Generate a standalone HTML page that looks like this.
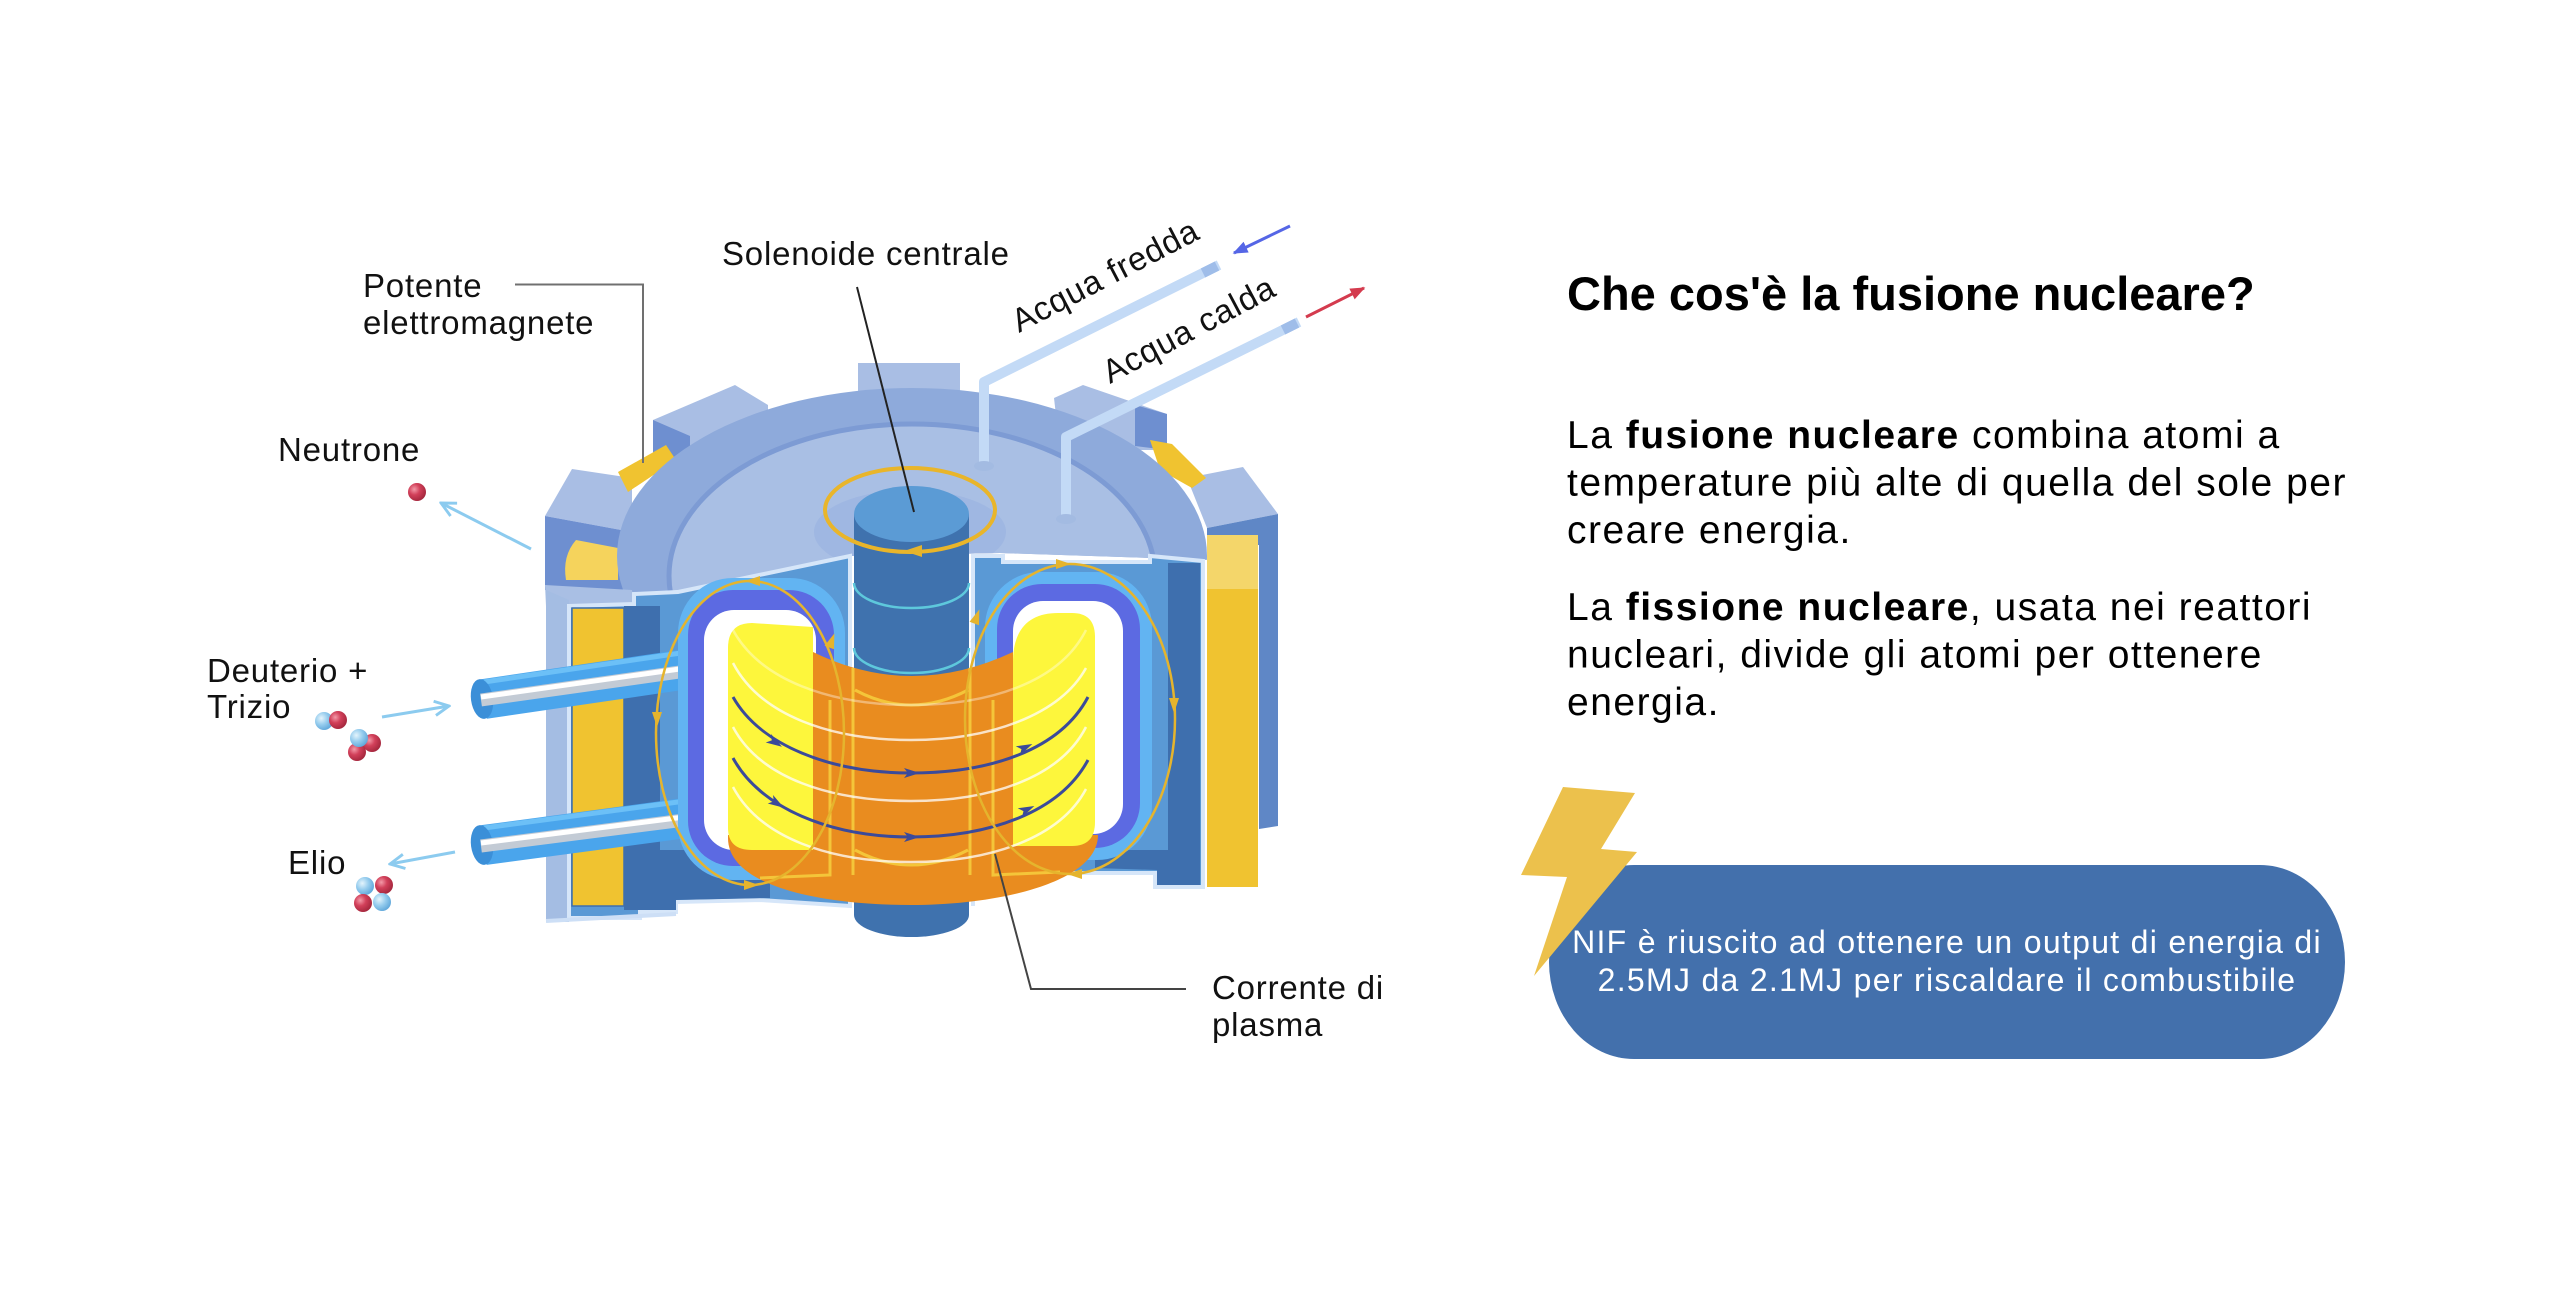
<!DOCTYPE html>
<html>
<head>
<meta charset="utf-8">
<style>
html,body{margin:0;padding:0;background:#ffffff;width:2560px;height:1298px;overflow:hidden}
svg{display:block}
</style>
</head>
<body>
<svg width="2560" height="1298" viewBox="0 0 2560 1298" xmlns="http://www.w3.org/2000/svg" font-family="'Liberation Sans', Arial, sans-serif">
<defs>
  <radialGradient id="rg" cx="35%" cy="35%" r="70%">
    <stop offset="0" stop-color="#f39aa8"/>
    <stop offset="0.45" stop-color="#d2405a"/>
    <stop offset="1" stop-color="#a3263c"/>
  </radialGradient>
  <radialGradient id="bg" cx="35%" cy="35%" r="70%">
    <stop offset="0" stop-color="#e4f4fc"/>
    <stop offset="0.5" stop-color="#97cdee"/>
    <stop offset="1" stop-color="#5fa7da"/>
  </radialGradient>
  <marker id="mLB" viewBox="0 0 10 10" refX="9" refY="5" markerWidth="6" markerHeight="6" orient="auto">
    <path d="M1,1 L9,5 L1,9" fill="none" stroke="#8ccbef" stroke-width="1.6"/>
  </marker>
  <marker id="mBL" viewBox="0 0 10 10" refX="9" refY="5" markerWidth="5" markerHeight="5" orient="auto">
    <path d="M0,1 L10,5 L0,9 Z" fill="#5566e6"/>
  </marker>
  <marker id="mRD" viewBox="0 0 10 10" refX="9" refY="5" markerWidth="5" markerHeight="5" orient="auto">
    <path d="M0,1 L10,5 L0,9 Z" fill="#d43b4e"/>
  </marker>
  <clipPath id="lidClip">
    <polygon points="590,300 1240,300 1240,561 1000,553 850,556 678,590 600,596"/>
  </clipPath>
</defs>

<!-- ===== Back blocks ===== -->
<rect x="858" y="363" width="102" height="40" fill="#a9bee4"/>
<polygon points="653,420 735,385 768,405 768,445 653,470" fill="#a9bee4"/>
<polygon points="653,420 690,436 690,475 653,475" fill="#6e8fd0"/>
<polygon points="1083,385 1167,414 1167,450 1060,450 1054,398" fill="#a9bee4"/>
<polygon points="1135,405 1167,414 1167,450 1135,446" fill="#6e8fd0"/>
<!-- far left block -->
<polygon points="545,516 572,469 632,478 632,532" fill="#a9bee4"/>
<polygon points="545,516 632,532 632,590 545,590" fill="#6e8fd0"/>
<path d="M576,540 L618,548 L618,580 L566,580 Q562,556 576,540 Z" fill="#f5d35c"/>
<!-- far right block -->
<polygon points="1187,478 1243,467 1278,514 1207,528" fill="#a9bee4"/>
<polygon points="1207,528 1278,514 1278,826 1259,829 1259,545 1207,548" fill="#5f87c6"/>
<!-- yellow wedges -->
<polygon points="1150,440 1172,444 1206,478 1192,488 1160,470" fill="#f0c330"/>
<polygon points="618,472 666,445 676,460 628,492" fill="#f0c330"/>
<!-- right yellow strip -->
<rect x="1207" y="535" width="51" height="352" fill="#f0c330"/>
<rect x="1207" y="535" width="51" height="54" fill="#f4d66a"/>

<!-- ===== Lid ===== -->
<g clip-path="url(#lidClip)">
  <ellipse cx="912" cy="556" rx="295" ry="168" fill="#8eaadb"/>
  <ellipse cx="912" cy="576" rx="243" ry="152" fill="#a9bfe4" stroke="#7d9bd4" stroke-width="5"/>
  <ellipse cx="910" cy="532" rx="96" ry="42" fill="#9fb7e2"/>
</g>
<!-- lid front face left -->
<polygon points="545,585 632,590 634,604 569,606 546,606" fill="#a9bfe4"/>

<!-- ===== Section body ===== -->
<polygon points="546,590 569,600 569,922 546,922" fill="#a4bde3"/>
<polygon points="569,606 634,604 634,594 678,592 850,556 850,906 760,900 676,902 676,912 640,912 640,918 569,918" fill="#5a99d5" stroke="#d6e6f9" stroke-width="4"/>
<polygon points="973,556 1003,556 1003,562 1150,562 1150,556 1203,561 1203,887 1155,887 1155,873 973,873" fill="#5a99d5" stroke="#d6e6f9" stroke-width="4"/>
<line x1="546" y1="921" x2="676" y2="914" stroke="#cddff6" stroke-width="4"/>
<!-- left coil & dark -->
<rect x="572" y="608" width="52" height="298" fill="#f0c330" stroke="#3e6fae" stroke-width="1.5"/>
<rect x="624" y="606" width="36" height="300" fill="#3e6fae"/>
<polygon points="624,850 770,850 770,898 676,900 676,910 624,910" fill="#3e6fae"/>
<!-- right dark -->
<rect x="1168" y="563" width="32" height="322" fill="#3e6fae"/>
<polygon points="1095,850 1168,850 1168,885 1157,885 1157,870 1095,868" fill="#3e6fae"/>

<!-- ===== Injector pipes ===== -->
<g>
  <line x1="484" y1="699" x2="708" y2="666" stroke="#4aa5ec" stroke-width="40"/>
  <line x1="484" y1="682" x2="708" y2="649" stroke="#6cc0f7" stroke-width="5"/>
  <ellipse cx="482" cy="699" rx="11" ry="20" transform="rotate(-8 482 699)" fill="#3b8fd8"/>
  <line x1="481" y1="700" x2="708" y2="668" stroke="#c3cbd5" stroke-width="13"/>
  <line x1="481" y1="697" x2="708" y2="665" stroke="#ffffff" stroke-width="5"/>

  <line x1="484" y1="845" x2="708" y2="815" stroke="#4aa5ec" stroke-width="40"/>
  <line x1="484" y1="828" x2="708" y2="798" stroke="#6cc0f7" stroke-width="5"/>
  <ellipse cx="482" cy="845" rx="11" ry="20" transform="rotate(-8 482 845)" fill="#3b8fd8"/>
  <line x1="481" y1="846" x2="708" y2="817" stroke="#c3cbd5" stroke-width="13"/>
  <line x1="481" y1="843" x2="708" y2="814" stroke="#ffffff" stroke-width="5"/>
</g>

<!-- ===== D shapes ===== -->
<rect x="678" y="578" width="167" height="302" rx="55" fill="#62b4f2"/>
<rect x="688" y="590" width="146" height="276" rx="45" fill="#5c6ae2"/>
<rect x="704" y="610" width="112" height="240" rx="30" fill="#ffffff"/>
<rect x="985" y="572" width="167" height="288" rx="55" fill="#62b4f2"/>
<rect x="997" y="584" width="143" height="264" rx="45" fill="#5c6ae2"/>
<rect x="1013" y="601" width="110" height="233" rx="30" fill="#ffffff"/>

<!-- ===== Column ===== -->
<line x1="850" y1="556" x2="850" y2="906" stroke="#d6e6f9" stroke-width="4"/>
<line x1="973" y1="556" x2="973" y2="906" stroke="#d6e6f9" stroke-width="4"/>
<rect x="854" y="514" width="115" height="401" fill="#3f72ae"/>
<ellipse cx="911.5" cy="915" rx="57.5" ry="22" fill="#3f72ae"/>
<ellipse cx="911.5" cy="514" rx="57.5" ry="28" fill="#5b9bd5"/>
<path d="M854,583 A57.5,25 0 0 0 969,583" fill="none" stroke="#5ec8dc" stroke-width="2.5"/>
<path d="M854,648 A57.5,25 0 0 0 969,648" fill="none" stroke="#5ec8dc" stroke-width="2.5"/>

<!-- ===== Plasma ===== -->
<path d="M813,652 Q911,700 1013,652 L1013,835 L1098,835 C1098,882 1000,905 911,905 C820,905 728,886 728,838 L728,835 L813,835 Z" fill="#e98c1f"/>
<path d="M813,627 L752,623 Q728,623 728,648 L728,828 Q728,850 752,850 L813,850 Z" fill="#fdf63c"/>
<path d="M1013,662 C1013,628 1030,613 1058,613 L1072,613 Q1095,613 1095,637 L1095,822 Q1095,846 1072,846 L1013,846 Z" fill="#fdf63c"/>
<!-- yellow vertical field lines on plasma -->
<g stroke="#f7cf3e" stroke-width="3" fill="none" opacity="0.85">
  <line x1="853" y1="668" x2="853" y2="875"/>
  <line x1="970" y1="668" x2="970" y2="875"/>
  <path d="M830,700 L830,875 L760,878"/>
  <path d="M993,700 L993,875 L1060,872"/>
  <path d="M855,690 Q911,720 968,690"/>
  <path d="M855,850 Q911,880 968,850"/>
</g>
<!-- white arcs -->
<g stroke="#ffffff" stroke-width="2.5" fill="none" opacity="0.75">
  <path d="M733,663 C760,715 830,740 911,740 C990,740 1060,715 1086,668"/>
  <path d="M733,727 C760,778 830,801 911,801 C990,801 1060,778 1086,727"/>
  <path d="M733,787 C760,838 830,862 911,862 C990,862 1060,838 1086,789"/>
  <path d="M733,630 C760,680 830,705 911,705 C990,705 1060,682 1086,630" opacity="0.5"/>
</g>
<!-- navy plasma current arcs -->
<g stroke="#3b4a9a" stroke-width="3" fill="none">
  <path d="M733,697 C760,745 830,773 911,773 C990,773 1060,750 1088,697"/>
  <path d="M733,758 C760,808 830,837 911,837 C990,837 1060,812 1088,760"/>
</g>
<g fill="#3b4a9a">
  <path d="M-9,-5 L7,0 L-9,5 L-5,0 Z" transform="translate(776,743) rotate(32)"/>
  <path d="M-9,-5 L7,0 L-9,5 L-5,0 Z" transform="translate(913,773) rotate(0)"/>
  <path d="M-9,-5 L7,0 L-9,5 L-5,0 Z" transform="translate(1026,747) rotate(-25)"/>
  <path d="M-9,-5 L7,0 L-9,5 L-5,0 Z" transform="translate(778,804) rotate(32)"/>
  <path d="M-9,-5 L7,0 L-9,5 L-5,0 Z" transform="translate(913,837) rotate(0)"/>
  <path d="M-9,-5 L7,0 L-9,5 L-5,0 Z" transform="translate(1028,809) rotate(-25)"/>
</g>

<!-- ===== Yellow field loops ===== -->
<g stroke="#e5b42d" stroke-width="2.5" fill="none">
  <ellipse cx="750" cy="733" rx="94" ry="152"/>
  <ellipse cx="1070" cy="719" rx="105" ry="155"/>
</g>
<ellipse cx="910" cy="510" rx="85" ry="42" fill="none" stroke="#e9b52a" stroke-width="4"/>
<g fill="#e5b42d">
  <path d="M-8,-5 L7,0 L-8,5 Z" transform="translate(752,581) rotate(180)"/>
  <path d="M-8,-5 L7,0 L-8,5 Z" transform="translate(657,720) rotate(90)"/>
  <path d="M-8,-5 L7,0 L-8,5 Z" transform="translate(752,885) rotate(0)"/>
  <path d="M-8,-5 L7,0 L-8,5 Z" transform="translate(832,640) rotate(-70)"/>
  <path d="M-8,-5 L7,0 L-8,5 Z" transform="translate(1064,564) rotate(0)"/>
  <path d="M-8,-5 L7,0 L-8,5 Z" transform="translate(1174,706) rotate(90)"/>
  <path d="M-8,-5 L7,0 L-8,5 Z" transform="translate(1074,874) rotate(180)"/>
  <path d="M-8,-5 L7,0 L-8,5 Z" transform="translate(977,616) rotate(-70)"/>
  <path d="M-10,-6 L8,0 L-10,6 Z" transform="translate(912,551) rotate(180)"/>
</g>

<!-- ===== Water pipes ===== -->
<g fill="none" stroke="#c3daf6" stroke-width="10" stroke-linejoin="round">
  <polyline points="984,465 984,382 1219,265"/>
  <polyline points="1066,518 1066,437 1299,322"/>
</g>
<line x1="1203" y1="273" x2="1217" y2="266" stroke="#9fbde9" stroke-width="10"/>
<line x1="1283" y1="330" x2="1297" y2="323" stroke="#9fbde9" stroke-width="10"/>
<ellipse cx="984" cy="466" rx="10" ry="5" fill="#a3bbe2"/>
<ellipse cx="1066" cy="519" rx="10" ry="5" fill="#a3bbe2"/>
<line x1="1290" y1="226" x2="1234" y2="253" stroke="#5566e6" stroke-width="3" marker-end="url(#mBL)"/>
<line x1="1306" y1="317" x2="1364" y2="288" stroke="#d43b4e" stroke-width="3" marker-end="url(#mRD)"/>

<!-- ===== Leader lines ===== -->
<polyline points="515,284.5 643,284.5 643,463" fill="none" stroke="#707070" stroke-width="2"/>
<line x1="857" y1="287" x2="914" y2="512" stroke="#222222" stroke-width="2"/>
<polyline points="1186,989 1031,989 995,854" fill="none" stroke="#444444" stroke-width="2"/>

<!-- ===== Particle arrows ===== -->
<line x1="531" y1="549" x2="441" y2="503" stroke="#8ccbef" stroke-width="3" marker-end="url(#mLB)"/>
<line x1="382" y1="717" x2="449" y2="706" stroke="#8ccbef" stroke-width="3" marker-end="url(#mLB)"/>
<line x1="455" y1="852" x2="390" y2="864" stroke="#8ccbef" stroke-width="3" marker-end="url(#mLB)"/>

<!-- ===== Particles ===== -->
<circle cx="417" cy="492" r="9" fill="url(#rg)"/>
<circle cx="324" cy="721" r="9" fill="url(#bg)"/>
<circle cx="338" cy="720" r="9" fill="url(#rg)"/>
<circle cx="372" cy="743" r="9" fill="url(#rg)"/>
<circle cx="357" cy="752" r="9" fill="url(#rg)"/>
<circle cx="359" cy="738" r="9" fill="url(#bg)"/>
<circle cx="384" cy="885" r="9" fill="url(#rg)"/>
<circle cx="382" cy="902" r="9" fill="url(#bg)"/>
<circle cx="365" cy="886" r="9" fill="url(#bg)"/>
<circle cx="363" cy="903" r="9" fill="url(#rg)"/>

<!-- ===== Diagram labels ===== -->
<g font-size="33" fill="#111111" letter-spacing="0.8">
  <text x="363" y="297">Potente</text>
  <text x="363" y="334">elettromagnete</text>
  <text x="722" y="265">Solenoide centrale</text>
  <text x="278" y="461">Neutrone</text>
  <text x="207" y="682">Deuterio +</text>
  <text x="207" y="718">Trizio</text>
  <text x="288" y="874">Elio</text>
  <text x="1212" y="999">Corrente di</text>
  <text x="1212" y="1036">plasma</text>
  <text transform="translate(1019,333) rotate(-27.5)">Acqua fredda</text>
  <text transform="translate(1110,384) rotate(-28)">Acqua calda</text>
</g>

<!-- ===== Right side text ===== -->
<text x="1567" y="310" font-size="47" font-weight="bold" fill="#000000">Che cos'è la fusione nucleare?</text>
<g font-size="39" fill="#000000" letter-spacing="1.5">
  <text x="1567" y="448">La <tspan font-weight="bold">fusione nucleare</tspan> combina atomi a</text>
  <text x="1567" y="495.5">temperature più alte di quella del sole per</text>
  <text x="1567" y="543">creare energia.</text>
  <text x="1567" y="620">La <tspan font-weight="bold">fissione nucleare</tspan>, usata nei reattori</text>
  <text x="1567" y="667.5">nucleari, divide gli atomi per ottenere</text>
  <text x="1567" y="715">energia.</text>
</g>

<!-- ===== Pill & bolt ===== -->
<rect x="1549" y="865" width="796" height="194" rx="85" ry="97" fill="#4370ac"/>
<polygon points="1563,787 1635,793 1601,849 1637,852 1534,976 1567,877 1521,875" fill="#ecc14c"/>
<g font-size="32" fill="#ffffff" letter-spacing="1.3" text-anchor="middle">
  <text x="1947" y="953">NIF è riuscito ad ottenere un output di energia di</text>
  <text x="1947" y="991">2.5MJ da 2.1MJ per riscaldare il combustibile</text>
</g>
</svg>
</body>
</html>
